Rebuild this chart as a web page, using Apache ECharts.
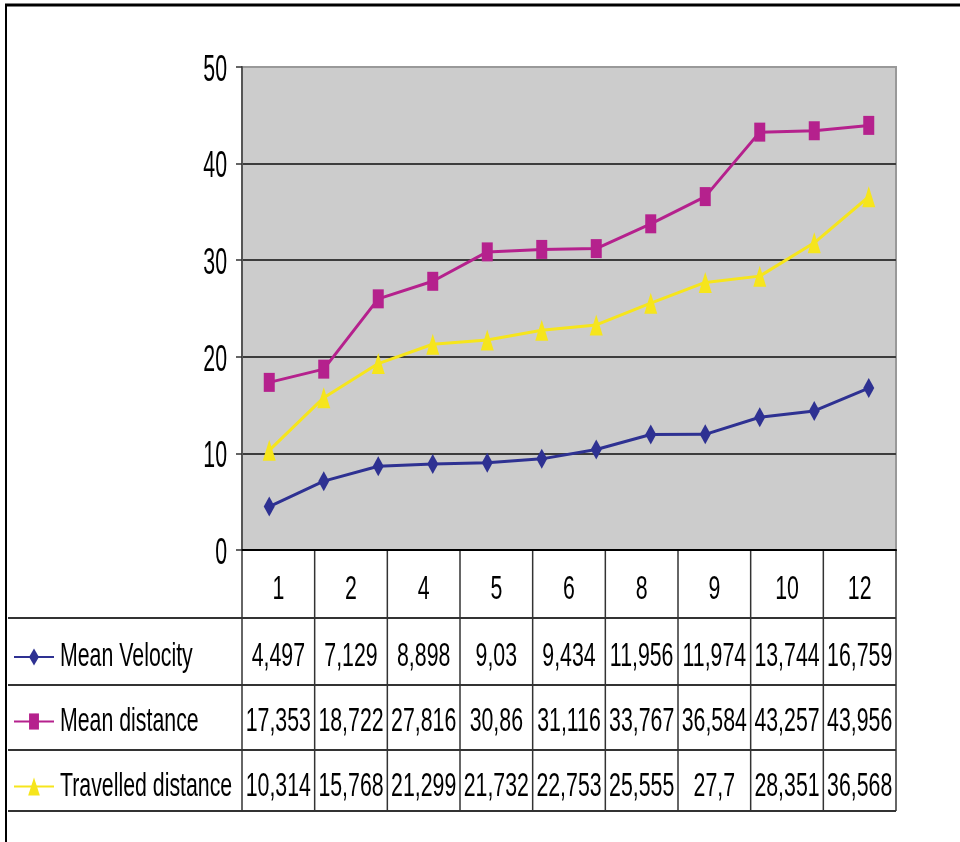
<!DOCTYPE html>
<html>
<head>
<meta charset="utf-8">
<script src="https://cdn.jsdelivr.net/npm/echarts@6/dist/echarts.min.js"></script>
<style>
  html, body { margin: 0; padding: 0; background: #ffffff; }
  #chart { width: 960px; height: 842px; }
</style>
</head>
<body>
<div id="chart"></div>
<script>
// Measurement sessions 1..12 and the three measured quantities
const categories = ['1', '2', '3', '4', '5', '6', '7', '8', '9', '10', '11', '12'];
const meanVelocity = [4.497, 7.129, 8.67, 8.898, 9.03, 9.434, 10.4, 11.956, 11.974, 13.744, 14.4, 16.759];
const meanDistance = [17.353, 18.722, 26.0, 27.816, 30.86, 31.116, 31.2, 33.767, 36.584, 43.257, 43.4, 43.956];
const travelledDistance = [10.314, 15.768, 19.3, 21.299, 21.732, 22.753, 23.3, 25.555, 27.7, 28.351, 31.8, 36.568];

// Sessions listed in the data table under the plot
const tableCategories = ['1', '2', '4', '5', '6', '8', '9', '10', '12'];
const seriesNames = ['Mean Velocity', 'Mean distance', 'Travelled distance'];
const yTicks = [0, 10, 20, 30, 40, 50];

const seriesValues = [meanVelocity, meanDistance, travelledDistance];
const seriesColors = ['#2e3192', '#b5218d', '#f6e51c'];
const seriesSymbols = ['diamond', 'rect', 'triangle'];
const symbolSizes = [[11, 20], [11, 19], [13, 21]];

// Layout
const W = 960, H = 842;
const grid = { left: 242, top: 67, right: 64, bottom: 292 };
const plotW = W - grid.left - grid.right;
const axisY = H - grid.bottom;
const rowLines = [618, 685, 750, 811];
const headerTextY = 590;
const rowTextY = [657, 721.5, 786.5];
const tableLeft = 8;
const colW = plotW / tableCategories.length;
const FONT = "'Liberation Sans', Arial, sans-serif";
const TEXT_SIZE = 26;
// condensed, tall lettering
const TEXT_SX = 0.82;
const TEXT_SY = 1.3;
const LINE_COLOR = '#333333';

function fmt(v) {
  return String(v).replace('.', ',');
}

function tallText(text, x, y, align, sy) {
  return {
    type: 'text', x: x, y: y, scaleX: TEXT_SX, scaleY: sy || TEXT_SY, silent: true, z: 10,
    style: {
      text: text, fill: '#000000', fontFamily: FONT, fontSize: TEXT_SIZE,
      align: align || 'center', verticalAlign: 'middle'
    }
  };
}

function line(x1, y1, x2, y2, width, color) {
  return {
    type: 'line', silent: true,
    shape: { x1: x1, y1: y1, x2: x2, y2: y2 },
    style: { stroke: color || LINE_COLOR, lineWidth: width }
  };
}

function legendKey(i, cy) {
  const cx = 34;
  const els = [line(14, cy, 54, cy, 2, seriesColors[i])];
  const w = symbolSizes[i][0] * 0.9, h = symbolSizes[i][1] * 0.85;
  if (seriesSymbols[i] === 'diamond') {
    els.push({ type: 'polygon', silent: true,
      shape: { points: [[cx, cy - h / 2], [cx + w / 2, cy], [cx, cy + h / 2], [cx - w / 2, cy]] },
      style: { fill: seriesColors[i] } });
  } else if (seriesSymbols[i] === 'rect') {
    els.push({ type: 'rect', silent: true,
      shape: { x: cx - w / 2, y: cy - h / 2, width: w, height: h },
      style: { fill: seriesColors[i] } });
  } else {
    els.push({ type: 'polygon', silent: true,
      shape: { points: [[cx, cy - h / 2], [cx + w / 2, cy + h / 2], [cx - w / 2, cy + h / 2]] },
      style: { fill: seriesColors[i] } });
  }
  return els;
}

function buildTable() {
  const els = [];
  const right = grid.left + plotW;
  // outer frame (top and left edges)
  els.push(line(5, 5, W, 5, 3, '#000000'));
  els.push(line(6, 4, 6, H, 2, '#000000'));
  // horizontal rules
  rowLines.forEach(function (y) { els.push(line(tableLeft, y, right, y, 2)); });
  // vertical rules
  for (let k = 0; k <= tableCategories.length; k++) {
    const x = grid.left + k * colW;
    els.push(line(x, axisY, x, rowLines[rowLines.length - 1], 1.5));
  }
  // header row
  tableCategories.forEach(function (c, k) {
    els.push(tallText(c, grid.left + (k + 0.5) * colW, headerTextY));
  });
  // value rows with their legend keys
  seriesValues.forEach(function (vals, i) {
    tableCategories.forEach(function (c, k) {
      const idx = categories.indexOf(c);
      els.push(tallText(fmt(vals[idx]), grid.left + (k + 0.5) * colW, rowTextY[i]));
    });
    legendKey(i, rowTextY[i]).forEach(function (e) { els.push(e); });
    els.push(tallText(seriesNames[i], 60, rowTextY[i], 'left'));
  });
  return els;
}

const chart = echarts.init(document.getElementById('chart'), null, { renderer: 'canvas' });

const splitColors = yTicks.map(function (t, i) { return i === yTicks.length - 1 ? '#999999' : '#3c3c3c'; });

chart.setOption({
  animation: false,
  backgroundColor: '#ffffff',
  grid: {
    left: grid.left, top: grid.top, right: grid.right, bottom: grid.bottom,
    show: true, backgroundColor: '#cccccc', borderColor: '#999999', borderWidth: 2
  },
  xAxis: {
    type: 'category',
    data: categories,
    boundaryGap: true,
    axisLine: { show: true, lineStyle: { color: '#000000', width: 2 } },
    axisTick: { show: false },
    axisLabel: { show: false },
    splitLine: { show: false }
  },
  yAxis: {
    type: 'value',
    min: yTicks[0],
    max: yTicks[yTicks.length - 1],
    interval: yTicks[1] - yTicks[0],
    axisLine: { show: true, lineStyle: { color: '#555555', width: 2 } },
    axisTick: { show: true, length: 6, lineStyle: { color: '#333333', width: 1.5 } },
    axisLabel: { show: false },
    splitLine: { show: true, lineStyle: { color: splitColors, width: 2 } }
  },
  series: seriesNames.map(function (name, i) {
    return {
      name: name,
      type: 'line',
      data: seriesValues[i],
      symbol: seriesSymbols[i],
      symbolSize: symbolSizes[i],
      showSymbol: true,
      lineStyle: { color: seriesColors[i], width: 3 },
      itemStyle: { color: seriesColors[i] },
      emphasis: { disabled: true }
    };
  }),
  graphic: { elements: buildTable() }
});

// Value-axis tick labels, placed through the axis scale
const tickLabels = yTicks.map(function (t) {
  const py = chart.convertToPixel({ yAxisIndex: 0 }, t);
  return tallText(String(t), 227, py + 3.5, 'right', 1.45);
});
chart.setOption({ graphic: { elements: buildTable().concat(tickLabels) } }, { replaceMerge: ['graphic'] });
</script>
</body>
</html>
